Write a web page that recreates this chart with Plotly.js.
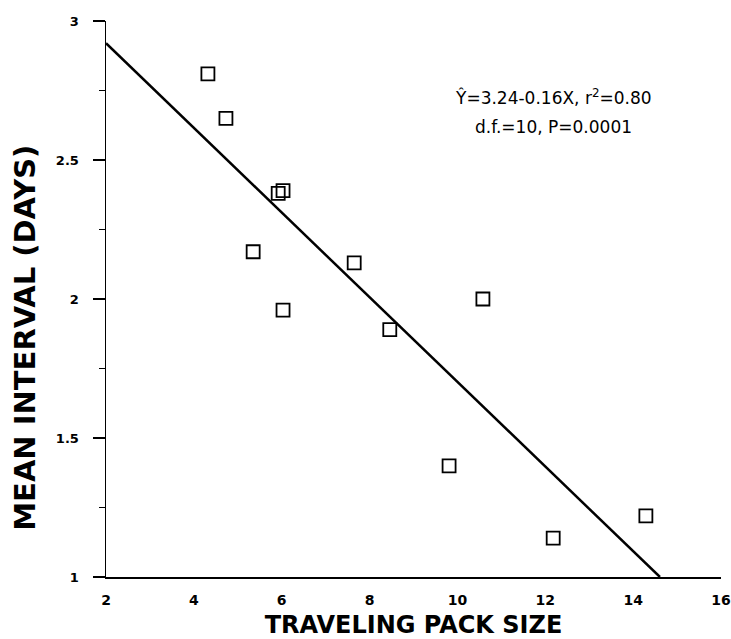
<!DOCTYPE html>
<html>
<head>
<meta charset="utf-8">
<script src="https://cdn.plot.ly/plotly-3.0.1.min.js"></script>
<style>html,body{margin:0;padding:0;background:#fff;}#chart{width:731px;height:639px;}</style>
</head>
<body>
<div id="chart"></div>
<script>
// Observed data: traveling pack size vs mean interval (days)
const packSize = [4.32, 4.73, 5.92, 6.03, 5.35, 6.03, 7.65, 8.46, 10.58, 9.81, 12.18, 14.29];
const meanInterval = [2.81, 2.65, 2.38, 2.39, 2.17, 1.96, 2.13, 1.89, 2.00, 1.40, 1.14, 1.22];
// Fitted regression line endpoints as drawn
const fitX = [2, 14.61];
const fitY = [2.92, 1.0];
const xTicks = [2, 4, 6, 8, 10, 12, 14, 16];
const yTicks = [1, 1.5, 2, 2.5, 3];
const xTitle = 'TRAVELING PACK SIZE';
const yTitle = 'MEAN INTERVAL (DAYS)';
const eqLine1 = 'Ŷ=3.24-0.16X, r<sup>2</sup>=0.80';
const eqLine2 = 'd.f.=10, P=0.0001';

const boldFont = 'DejaVu Sans, Liberation Sans, Arial, sans-serif';

const traces = [
  {
    x: fitX, y: fitY, mode: 'lines', type: 'scatter',
    line: {color: '#000', width: 2.5},
    hoverinfo: 'skip', showlegend: false
  },
  {
    x: packSize, y: meanInterval, mode: 'markers', type: 'scatter',
    marker: {symbol: 'square-open', size: 13, color: '#000', line: {color: '#000', width: 1.8}},
    showlegend: false
  }
];

const layout = {
  width: 731, height: 639,
  margin: {l: 106, r: 10, t: 21, b: 62},
  paper_bgcolor: '#fff', plot_bgcolor: '#fff',
  showlegend: false,
  xaxis: {
    range: [2, 16], tickvals: xTicks, ticktext: xTicks.map(String),
    showgrid: false, zeroline: false,
    showline: true, linecolor: '#000', linewidth: 2,
    ticks: '', ticklabelstandoff: 9,
    tickfont: {family: boldFont, size: 14, color: '#000', weight: 'bold'},
    title: {text: xTitle, font: {family: boldFont, size: 24, color: '#000', weight: 'bold'}, standoff: 9}
  },
  yaxis: {
    range: [1, 3], tickvals: yTicks, ticktext: yTicks.map(String),
    showgrid: false, zeroline: false,
    showline: true, linecolor: '#000', linewidth: 1.5,
    ticks: 'outside', ticklen: 12, tickwidth: 1.3, tickcolor: '#000',
    ticklabelstandoff: 11,
    minor: {tickvals: [1.25, 1.75, 2.25, 2.75], ticks: 'outside', ticklen: 6, tickwidth: 1, tickcolor: '#000', showgrid: false},
    tickfont: {family: boldFont, size: 13, color: '#000', weight: 'bold'}
  },
  annotations: [
    {
      text: yTitle, textangle: -90, showarrow: false,
      xref: 'paper', yref: 'paper', x: -0.132, y: 0.43,
      xanchor: 'center', yanchor: 'middle',
      font: {family: boldFont, size: 29, color: '#000', weight: 'bold'}
    },
    {
      text: eqLine1, showarrow: false,
      xref: 'paper', yref: 'paper', x: 0.728, y: (577 - 97) / 556,
      xanchor: 'center', yanchor: 'middle',
      font: {family: 'DejaVu Sans, Liberation Sans, Arial, sans-serif', size: 17, color: '#000'}
    },
    {
      text: eqLine2, showarrow: false,
      xref: 'paper', yref: 'paper', x: 0.728, y: (577 - 127) / 556,
      xanchor: 'center', yanchor: 'middle',
      font: {family: 'DejaVu Sans, Liberation Sans, Arial, sans-serif', size: 17, color: '#000'}
    }
  ]
};

Plotly.newPlot('chart', traces, layout, {displayModeBar: false, staticPlot: true});
</script>
</body>
</html>
